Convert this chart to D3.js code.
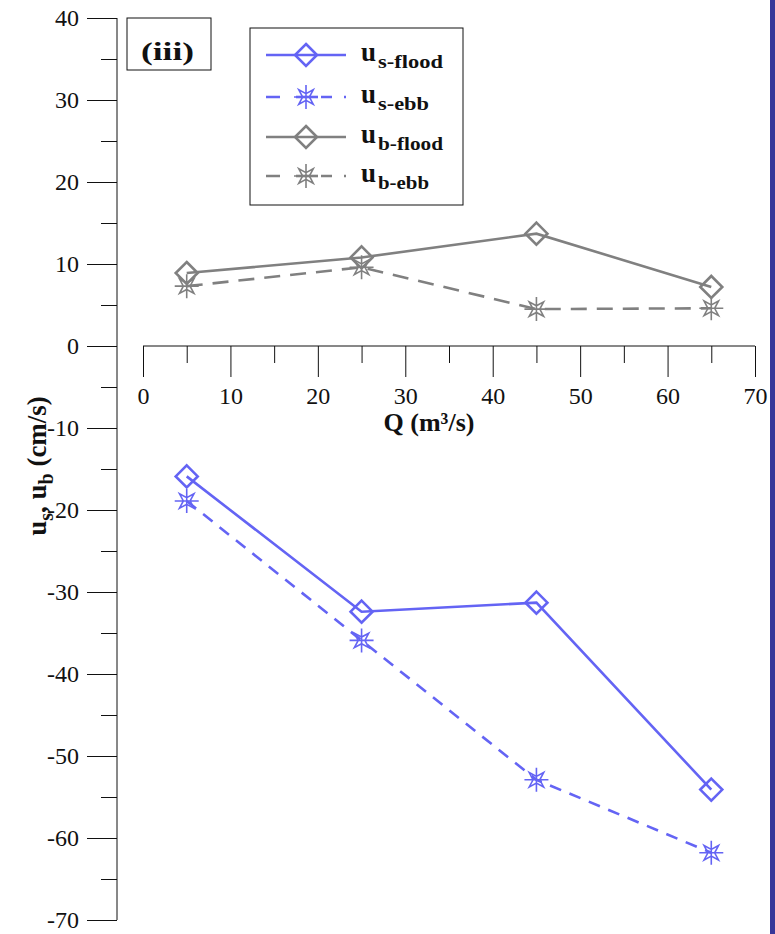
<!DOCTYPE html>
<html>
<head>
<meta charset="utf-8">
<script src="https://cdn.jsdelivr.net/npm/d3@7"></script>
<style>
  html, body { margin: 0; padding: 0; background: #fff; }
  svg { display: block; }
  svg text { font-family: "Liberation Serif", "Times New Roman", serif !important; }
</style>
</head>
<body>
<div id="chart"></div>
<script>
// ---- data ----
const discharge = [5, 25, 45, 65];
const usFlood = [-15.9, -32.4, -31.3, -54.1];
const usEbb = [-18.9, -35.9, -52.9, -61.8];
const ubFlood = [8.9, 10.8, 13.7, 7.2];
const ubEbb = [7.3, 9.6, 4.5, 4.6];
const xTicks = [0, 10, 20, 30, 40, 50, 60, 70];
const yTicks = [40, 30, 20, 10, 0, -10, -20, -30, -40, -50, -60, -70];
const seriesNames = ["s-flood", "s-ebb", "b-flood", "b-ebb"];

const W = 775, H = 934;
const svg = d3.select("#chart").append("svg").attr("width", W).attr("height", H);

const x = d3.scaleLinear().domain([0, 70]).range([143, 755]);
const y = d3.scaleLinear().domain([-70, 40]).range([920, 18]);

const blue = "#6464f4", gray = "#808080";
const serif = "'Liberation Serif', 'Times New Roman', serif";

// right edge bar
svg.append("rect").attr("x", 770).attr("y", 0).attr("width", 5).attr("height", H).attr("fill", "#373799");

// ---- Y axis ----
const yAxisG = svg.append("g").attr("transform", "translate(117,0)");
const yMajor = yAxisG.append("g")
  .call(d3.axisLeft(y).tickValues(yTicks).tickSize(30).tickPadding(8));
yAxisG.append("g").call(d3.axisLeft(y).tickValues(d3.range(-65, 40, 10)).tickSize(16).tickFormat(""))
  .select(".domain").remove();
yMajor.select(".domain").attr("stroke", "#111").attr("d", `M0,${y(40)}V${y(-70)}`);
yAxisG.selectAll("line").attr("stroke", "#111");
yMajor.selectAll(".tick text").attr("font-size", 24).attr("fill", "#111")
  .style("font-family", serif).text(d => d < 0 ? "-" + Math.abs(d) : d);

// ---- X axis at y=0 ----
const xAxisG = svg.append("g").attr("transform", `translate(0,${y(0)})`);
const xMajor = xAxisG.append("g")
  .call(d3.axisBottom(x).tickValues(xTicks).tickSize(31).tickPadding(10));
xAxisG.append("g").call(d3.axisBottom(x).tickValues(d3.range(5, 70, 10)).tickSize(17).tickFormat(""))
  .select(".domain").remove();
xMajor.select(".domain").attr("stroke", "#111").attr("d", `M${x(0)},0H${x(70)}`);
xAxisG.selectAll("line").attr("stroke", "#111");
xMajor.selectAll(".tick text").attr("font-size", 24).attr("fill", "#111")
  .style("font-family", serif);

// axis titles
svg.append("text").attr("x", 429).attr("y", 431).attr("text-anchor", "middle")
  .attr("font-size", 26).attr("font-weight", "bold").attr("fill", "#111")
  .style("font-family", serif).text("Q  (m³/s)");

const yt = svg.append("text").attr("transform", "translate(46,466) rotate(-90)")
  .attr("text-anchor", "middle").attr("font-size", 27).attr("font-weight", "bold").attr("fill", "#111")
  .style("font-family", serif);
yt.append("tspan").text("u");
yt.append("tspan").attr("font-size", 20).attr("dy", 7).text("s");
yt.append("tspan").attr("dy", -7).text(", u");
yt.append("tspan").attr("font-size", 20).attr("dy", 7).text("b");
yt.append("tspan").attr("dy", -7).text(" (cm/s)");

// ---- markers ----
function diamondPath(r) { return `M0,${-r}L${r},0L0,${r}L${-r},0Z`; }
function starPath(r) {
  const o = r * 0.85, i = r * 0.28;
  let p = `M0,${-r}V${r}M${-r},0H${r}`;
  const pts = [];
  for (let k = 0; k < 8; k++) {
    const a = -Math.PI / 2 + k * Math.PI / 4 + Math.PI / 4;
    const rr = (k % 2 === 0) ? o : i;
    pts.push([rr * Math.cos(a), rr * Math.sin(a)]);
  }
  p += "M" + pts.map(q => q[0].toFixed(2) + "," + q[1].toFixed(2)).join("L") + "Z";
  return p;
}

const series = [
  { key: seriesNames[0], vals: usFlood, color: blue, dash: null, marker: "diamond" },
  { key: seriesNames[1], vals: usEbb, color: blue, dash: "12,9", marker: "star" },
  { key: seriesNames[2], vals: ubFlood, color: gray, dash: null, marker: "diamond" },
  { key: seriesNames[3], vals: ubEbb, color: gray, dash: "16,10", marker: "star" }
];

const line = d3.line().x(d => x(d[0])).y(d => y(d[1]));

series.forEach(s => {
  const data = discharge.map((q, i) => [q, s.vals[i]]);
  svg.append("path").attr("d", line(data)).attr("fill", "none").attr("stroke", s.color)
    .attr("stroke-width", 2.6).attr("stroke-dasharray", s.dash);
  svg.append("g").selectAll("path").data(data).join("path")
    .attr("transform", d => `translate(${x(d[0])},${y(d[1])})`)
    .attr("d", s.marker === "diamond" ? diamondPath(11) : starPath(12))
    .attr("fill", "none").attr("stroke", s.color)
    .attr("stroke-width", s.marker === "diamond" ? 2.6 : 1.6);
});

// ---- panel label ----
svg.append("rect").attr("x", 127).attr("y", 18).attr("width", 84).attr("height", 52)
  .attr("fill", "#fff").attr("stroke", "#111").attr("stroke-width", 1);
svg.append("text").attr("x", 141).attr("y", 60)
  .attr("font-size", 25).attr("font-weight", "bold").attr("fill", "#111")
  .attr("textLength", 53).attr("lengthAdjust", "spacingAndGlyphs")
  .style("font-family", serif).text("(iii)");

// ---- legend ----
const lg = svg.append("g");
lg.append("rect").attr("x", 250).attr("y", 28).attr("width", 213).attr("height", 177)
  .attr("fill", "#fff").attr("stroke", "#111").attr("stroke-width", 1);
const rowsY = [55, 97, 137, 176];
const subLen = [65, 51, 65, 51];
series.forEach((s, i) => {
  const ry = rowsY[i];
  lg.append("line").attr("x1", 266).attr("x2", 346).attr("y1", ry).attr("y2", ry)
    .attr("stroke", s.color).attr("stroke-width", 2.6).attr("stroke-dasharray", s.dash ? "14,12" : null);
  if (s.dash) {
    lg.append("rect").attr("x", 292).attr("y", ry - 2).attr("width", 29).attr("height", 4).attr("fill", "#fff");
    lg.append("line").attr("x1", 296).attr("x2", 318).attr("y1", ry).attr("y2", ry)
      .attr("stroke", s.color).attr("stroke-width", 2.6);
  }
  lg.append("path").attr("transform", `translate(306,${ry})`)
    .attr("d", s.marker === "diamond" ? diamondPath(11) : starPath(12))
    .attr("fill", "none").attr("stroke", s.color)
    .attr("stroke-width", s.marker === "diamond" ? 2.6 : 1.6);
  lg.append("text").attr("x", 361).attr("y", ry + 6).attr("font-weight", "bold")
    .attr("font-size", 27).attr("fill", "#111").style("font-family", serif).text("u");
  lg.append("text").attr("x", 378).attr("y", ry + 13).attr("font-weight", "bold")
    .attr("font-size", 19).attr("fill", "#111").style("font-family", serif)
    .attr("textLength", subLen[i]).attr("lengthAdjust", "spacingAndGlyphs").text(s.key);
});
</script>
</body>
</html>
